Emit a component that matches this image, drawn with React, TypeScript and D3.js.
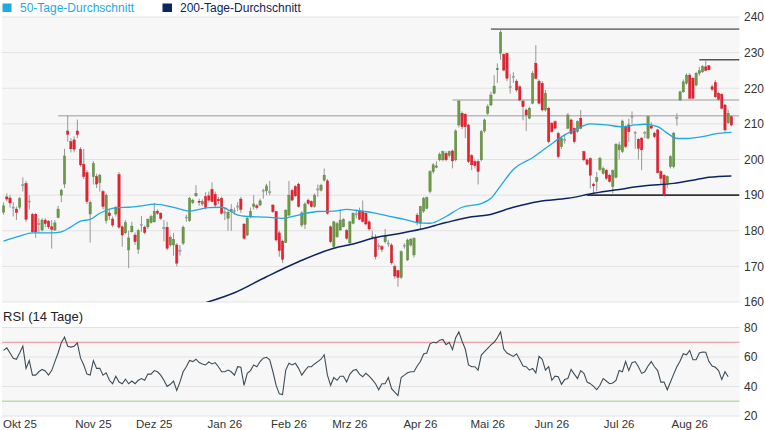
import React from 'react';
import * as d3 from 'd3';

// ---------- data ----------
const START_DATE = '2025-09-24';
const HOLIDAYS = ['2025-11-27', '2025-12-25', '2026-01-01', '2026-01-19', '2026-02-16', '2026-04-03', '2026-05-25', '2026-06-19', '2026-07-03'];

const OPEN = [
  185.2, 189.5, 189.2, 186.5, 186.1, 186.6, 192.8, 193.3, 188.2, 184.6,
  184.6, 181.9, 180.2, 183, 182.7, 181.1, 180.2, 183.7, 190, 193.1,
  208, 205, 205.5, 208, 202.9, 198.7, 196.3, 184.7, 195.2, 195.2,
  193.5, 191, 182.8, 185, 183.3, 184.7, 195.8, 181.1, 179.4, 174.6,
  179.7, 178.8, 174.8, 181.6, 181, 181.1, 182.3, 182.5, 185.5, 184.9,
  180.7, 181, 176, 176, 176, 174.4, 176.5, 183.7, 182.8, 187.9,
  189.8, 188.3, 187.5, 189.6, 189.8, 191.6, 190.2, 188.8, 189.1, 185.1,
  183.5, 185.4, 185.5, 186.8, 188.9, 181.9, 178.8, 184, 186.8, 187,
  187.2, 191.2, 191.2, 190.8, 187.2, 185.4, 179.4, 177.1, 176.7, 184.4,
  191.3, 192.4, 193.1, 181.6, 181.8, 188.6, 188.2, 186.8, 191.6, 191.4,
  194.2, 194, 181.1, 175.5, 178.3, 180.2, 181.1, 180, 176.6, 182.1,
  184.6, 185.6, 185.4, 184.9, 182.5, 178.3, 178.2, 175.7, 175.5, 176.9,
  176.4, 176, 169.9, 168.8, 166.9, 175.8, 171.8, 176, 173.2, 184.4,
  182.1, 185.5, 186.3, 191, 196.6, 197.8, 199.9, 199.9, 201.7, 201.1,
  202.4, 199.9, 209.7, 213, 212.7, 209.7, 201.1, 199.4, 199.4, 199.9,
  208, 213, 215.3, 218.6, 225.2, 229.8, 229.5, 229.8, 220.3, 223.2,
  222, 220.4, 216.4, 213.9, 211.6, 215.8, 227, 222, 221.4, 213.9,
  214.4, 210.2, 210.6, 207.3, 203.6, 205.5, 208.8, 211.1, 208.8, 207.8,
  211.6, 202.2, 199.9, 200.3, 193.1, 193.8, 197.2, 196.1, 197, 195.6,
  192.4, 195, 202.7, 202.2, 209.2, 209.7, 212, 207.5, 205.7, 206,
  207.5, 206, 209.4, 207.4, 208.3, 196.6, 195.6, 193.3, 198, 198,
  211.6, 216.7, 219, 221.4, 223.7, 222.8, 220.9, 224.2, 224.6, 226,
  226.3, 220.4, 221.6, 218.6, 218.3, 215.3, 210.3, 212,
];
const HIGH = [
  188, 190.5, 190, 188, 186.8, 189.5, 195, 194, 190, 185,
  185, 183.5, 183.5, 183.5, 183, 183, 183, 187, 191.8, 203,
  212.3, 206, 206.5, 211.2, 203.5, 203, 197, 188.5, 199.5, 196,
  196, 191.5, 190.5, 186, 184, 187, 196.5, 181.5, 183, 180,
  182.5, 179.5, 180.5, 184.1, 181.5, 183.5, 184.5, 187.8, 186, 185.2,
  183, 182.5, 178.7, 179.4, 176.5, 176, 181.5, 184.5, 189.5, 189,
  192.8, 189, 188.8, 190.8, 191, 193.6, 191, 189.5, 189.6, 186.5,
  185.8, 187.5, 186.5, 188, 189.5, 182, 184, 186.5, 190, 187.5,
  189, 191.8, 193.2, 194, 187.5, 185.6, 180, 177.5, 186, 194,
  191.8, 192.8, 193.5, 185.5, 188, 189, 188.5, 190.5, 193, 193.2,
  197.5, 194.5, 181.5, 182.8, 182.5, 186, 183.5, 180.5, 182.8, 185.2,
  186, 186.5, 188.5, 185.2, 183, 180, 179, 176.5, 176, 180.5,
  177.5, 176.5, 170.5, 169, 174.5, 176.5, 177.8, 178, 178.2, 185,
  187, 189.5, 189.6, 197, 199, 199.5, 202, 202.5, 202.3, 202.5,
  202.8, 208.5, 216.7, 213.5, 213, 210, 201.5, 200, 200, 208.3,
  211.5, 215.5, 219, 223.7, 227, 236.6, 229.8, 230, 224, 224.5,
  222.5, 220.8, 216.8, 214.3, 214.8, 224.8, 232.1, 222.5, 222, 219.5,
  214.8, 210.5, 211, 207.8, 206.5, 207, 213, 211.5, 209, 211,
  213.9, 202.5, 200.3, 200.6, 193.5, 196.5, 200.8, 198, 197.3, 196,
  197.2, 204.6, 205, 211.2, 209.6, 211.5, 213.5, 208, 206, 206.3,
  208, 212.3, 210.5, 207.8, 208.6, 197, 196, 195.5, 201.2, 207.7,
  213, 219.3, 222.5, 224.2, 224.2, 223.1, 224.6, 226, 226.5, 227.9,
  226.5, 221, 222.3, 219, 218.6, 215.6, 214, 212.3,
];
const LOW = [
  184.5, 188.3, 186.5, 184, 183, 186, 191, 182.5, 186, 179.5,
  178, 179.5, 179.8, 181, 180.5, 175, 180, 183.5, 188, 192,
  205, 202, 202, 206, 198, 194.5, 187.5, 176.7, 193, 192,
  191, 186, 182, 183, 181, 184, 180.5, 175.5, 179, 169.5,
  179.5, 176, 173.5, 179.7, 179, 180.5, 182, 182.3, 184.5, 183,
  177, 174.5, 175.5, 173, 170, 173, 176, 182.5, 182.5, 187.5,
  189.5, 187, 187, 186, 188, 188, 186.5, 187.5, 184.5, 183,
  180, 180, 184.5, 185.5, 185, 177.5, 178.5, 183.5, 186, 186,
  187, 189, 190, 190, 185, 177, 172.7, 171, 176.5, 184,
  188.3, 189.5, 186.5, 181, 180.5, 187.3, 186.5, 186.5, 189.5, 191,
  193.8, 184.5, 176.5, 175, 178, 180, 181, 177.5, 176.3, 181.8,
  183.5, 183, 182.3, 181.5, 180, 177.5, 172, 174.5, 174, 176.5,
  175.5, 170.5, 166.5, 164.3, 166.5, 175, 171.5, 175.5, 172.5, 181.5,
  180.5, 185, 186, 190.5, 196, 197.5, 199.5, 199.5, 199.5, 200.5,
  197.5, 199.5, 209, 208.5, 206, 199, 197, 197.5, 193, 199.5,
  207.5, 212.5, 215, 218.3, 221.5, 228, 224.8, 222, 218.5, 221.5,
  219, 216.3, 211, 208, 211.3, 215.5, 222.5, 215.5, 213.5, 213.5,
  204.5, 207.5, 208.5, 200.3, 203, 204.5, 208.5, 207, 204.5, 207.5,
  208.5, 199.5, 198.3, 191.9, 190.2, 191, 196.8, 195.8, 194.3, 193.5,
  190.5, 194.7, 200, 201.8, 203.2, 205, 210, 203, 200, 197,
  206, 205.7, 208.5, 206, 196, 193, 189.8, 192, 197.5, 197.5,
  209.5, 216.4, 218.7, 221, 216.9, 216.9, 220.5, 223.5, 224.3, 224.8,
  225, 219.3, 217.3, 216.5, 214, 207.5, 210, 209.3,
];
const CLOSE = [
  187, 188.9, 187.8, 186.5, 185.1, 189, 192.8, 183.2, 188.2, 179.7,
  179.7, 181.9, 183, 182, 181.1, 180.4, 182.2, 186.1, 191.4, 201,
  207.1, 203, 202.9, 207, 198.5, 195.2, 188.2, 188, 198.9, 193.1,
  195.6, 186.8, 190, 184.2, 181.6, 186.5, 181, 178.8, 182.3, 178,
  181.3, 176.9, 180, 181.6, 179.5, 183.2, 184, 185.5, 184.9, 183.5,
  180.7, 175.1, 178.2, 177.6, 170.9, 174.4, 181, 183.7, 189.1, 188.6,
  190.5, 188, 188.2, 186.6, 188.6, 188.2, 187.2, 188.4, 184.9, 185.1,
  185.2, 186, 185.5, 186.8, 186, 177.9, 183.5, 185.4, 187.5, 186.5,
  188.4, 191.2, 192.6, 190.8, 185.4, 177.4, 174.4, 172, 185.8, 190,
  188.6, 189.8, 186.8, 185, 187.5, 187.7, 186.8, 190, 191.6, 192.8,
  195.6, 184.9, 176.9, 182.5, 182, 183, 183.2, 177.9, 182.5, 184.9,
  184.6, 183.2, 182.6, 181.9, 180.5, 178.3, 172.7, 175.7, 174.8, 178.5,
  176.4, 171, 167.3, 166.9, 174.1, 175.8, 177.4, 177.6, 177.9, 182.2,
  186.8, 189.1, 189.3, 196.6, 198.5, 198.2, 201.5, 202.2, 199.9, 202.2,
  199.6, 208, 216.4, 209.2, 209.2, 199.4, 198.5, 198.3, 196.6, 207.8,
  211.1, 214.8, 218.1, 220.6, 225.6, 235.7, 225.1, 222.8, 220.3, 223.2,
  219.5, 216.7, 214.8, 212.5, 214.4, 224.2, 222.8, 215.8, 213.9, 218.6,
  205, 207.8, 208.8, 200.8, 206, 205.5, 212.5, 207.3, 205, 210.6,
  208.8, 199.9, 198.7, 195.6, 192.6, 194.9, 200.3, 197.5, 194.7, 193.8,
  196.9, 204.3, 204.1, 210.8, 203.6, 207.8, 212, 207.5, 203.1, 202.7,
  207.5, 212, 208.8, 206.4, 196.3, 194.7, 190, 195.2, 200.8, 207.4,
  211.6, 219, 221.8, 223.7, 217.2, 217.2, 224.2, 224.9, 226.1, 225,
  225.2, 219.7, 217.6, 216.9, 214.4, 208.3, 213, 209.7,
];

const RSI = [
  64.5, 66.2, 62.7, 59.2, 58.5, 62.7, 67.3, 52.3, 57.6, 47.7,
  47.7, 50, 51.6, 50.5, 47.7, 50.8, 56.9, 62.7, 69.6, 73.5,
  67.3, 66.7, 67.3, 69.6, 59.2, 54.6, 48.4, 47.7, 57.6, 52.3,
  52.3, 47.7, 49.3, 44.2, 41.9, 47, 43, 41.9, 44.9, 41.9,
  43.7, 41.9, 44.2, 45.4, 44.2, 48.4, 48.4, 50.8, 50, 47.7,
  44.2, 40.1, 41.5, 43.7, 37.3, 43, 50, 53.4, 57.6, 56.9,
  58.5, 56.2, 55.3, 54.6, 56.7, 55.3, 56.2, 53.4, 50, 50,
  51.1, 50, 47.7, 53.4, 53, 40.8, 48.9, 50.8, 54.6, 53.4,
  56.9, 59.2, 59.8, 58.1, 50, 40.8, 35, 34.5, 51.1, 55.8,
  54.6, 55.8, 52.3, 47.7, 50.8, 53.4, 53.4, 55.3, 56.9, 58.5,
  61.5, 47.7, 40.8, 46.1, 44.2, 47, 47, 43, 48.4, 50.8,
  51.6, 48.4, 46.6, 48.9, 47, 44.7, 41.9, 37.8, 41.9, 41.9,
  46.1, 38.5, 36.2, 33.8, 46.1, 47.7, 49.3, 50, 50, 53.9,
  56.9, 62, 62.7, 68.9, 70, 69.6, 71.4, 71.9, 68.4, 70,
  65, 73, 77, 70.7, 65.4, 54.6, 53.4, 53.4, 51.1, 61.3,
  63.6, 65.9, 68.2, 70, 73, 77, 65.4, 62.7, 61.5, 60.4,
  62.2, 58.1, 53.9, 53.4, 51.1, 52.3, 49.3, 60.4, 58.5, 51.1,
  53.4, 44.2, 47, 46.6, 41.5, 44.7, 45.4, 51.6, 48.4, 45.4,
  50.8, 48.9, 43, 41.9, 40.1, 37.8, 40.8, 45.4, 43.7, 41.9,
  42.4, 44.2, 50.8, 50, 56.9, 50.8, 56.2, 56.9, 53.4, 48.9,
  50, 53.9, 56.9, 53.4, 50.8, 43, 43, 37.8, 43, 48.4,
  53.4, 57.3, 62.2, 61.5, 64.5, 58.1, 58.1, 62.7, 63.4, 63.2,
  56.9, 53.9, 53, 50.8, 44.7, 50, 46.6,
];

const MA50_IDX = [0, 5, 9, 15, 18, 21, 24, 27, 30, 33, 36, 39, 43, 47, 51, 55, 58, 61, 64, 68, 71, 73, 76, 82, 87, 92, 98, 103, 107, 111, 115, 120, 125, 129, 133, 138, 143, 149, 152, 155, 159, 165, 170, 175, 179, 183, 188, 193, 197, 200, 204, 207, 210, 213, 218, 222, 227];
const MA50_VAL = [177.1, 178.5, 179.4, 179.4, 179.7, 181.1, 182.7, 183.2, 184.9, 186.1, 186.5, 186.6, 187, 187.5, 187, 186.1, 185.5, 186, 186.5, 186.6, 185.4, 184.4, 184, 183.8, 183.5, 184.4, 185.4, 185.5, 186, 185.6, 185.1, 184.1, 183.2, 182.3, 182.1, 184, 186.6, 187.6, 189.1, 192.6, 197.2, 200.5, 203.8, 206.9, 208.7, 210, 209.7, 209.2, 209.7, 209.9, 209.2, 207.4, 205.9, 205.9, 206.4, 207.2, 207.6];

const MA200_IDX = [63, 72, 82, 92, 103, 109, 116, 124, 130, 138, 146, 151, 159, 167, 176, 184, 192, 200, 209, 215, 220, 227];
const MA200_VAL = [159.8, 162.6, 167.1, 171.3, 175.1, 176.3, 178.1, 179.3, 180.4, 182.3, 183.9, 184.4, 186.6, 188.2, 189.1, 190.5, 191.6, 192.6, 193.3, 194.2, 195, 195.4];

const LEVELS = [212.3, 216.7, 236.6, 228, 190];
const LEVEL_START = [17, 140, 152, 217, 182];
const LEVEL_COLORS = ['#b9b9b9', '#b9b9b9', '#7d7d7d', '#555555', '#333333'];

const PRICE_TICKS = [160, 170, 180, 190, 200, 210, 220, 230, 240];
const RSI_TICKS = [20, 40, 60, 80];
const RSI_BANDS = [70, 30];
const MONTH_LABELS = ['Okt 25', 'Nov 25', 'Dez 25', 'Jan 26', 'Feb 26', 'Mrz 26', 'Apr 26', 'Mai 26', 'Jun 26', 'Jul 26', 'Aug 26'];
const MONTH_KEYS = ['2025-10', '2025-11', '2025-12', '2026-01', '2026-02', '2026-03', '2026-04', '2026-05', '2026-06', '2026-07', '2026-08'];

// ---------- helpers ----------
function tradingDays(start: string, n: number, holidays: string[]): string[] {
  const out: string[] = [];
  const d = new Date(start + 'T00:00:00Z');
  while (out.length < n) {
    const wd = d.getUTCDay();
    const s = d.toISOString().slice(0, 10);
    if (wd !== 0 && wd !== 6 && !holidays.includes(s)) out.push(s);
    d.setUTCDate(d.getUTCDate() + 1);
  }
  return out;
}

const W = 765;
const H = 430;
const PL = 2;
const PR = 739.5;
const MAIN_TOP = 17;
const MAIN_BOT = 302;
const RSI_TOP = 327.5;
const RSI_BOT = 416;
const FONT = 'Arial, "Liberation Sans", Helvetica, sans-serif';

export default function App() {
  const N = CLOSE.length;
  const dates = tradingDays(START_DATE, N, HOLIDAYS);
  const idx = d3.range(N);

  const x = d3.scaleBand<number>().domain(idx).range([2, 733]).paddingInner(0.28).paddingOuter(0.14);
  const bw = x.bandwidth();
  const cx = (i: number) => (x(i) as number) + bw / 2;

  const y = d3.scaleLinear().domain([160, 240]).range([MAIN_BOT, MAIN_TOP]);
  const yr = d3.scaleLinear().domain([20, 80]).range([RSI_BOT, RSI_TOP]);

  const ma50Line = d3.line<number>().x((_, k) => cx(MA50_IDX[k])).y((v) => y(v)).curve(d3.curveMonotoneX);
  const ma200Line = d3.line<number>().x((_, k) => cx(MA200_IDX[k])).y((v) => y(v)).curve(d3.curveMonotoneX);
  const rsiLine = d3.line<number>().x((_, k) => cx(k)).y((v) => yr(v));

  const monthTicks = MONTH_KEYS.map((key, m) => {
    const i = dates.findIndex((s) => s.slice(0, 7) === key);
    return { label: MONTH_LABELS[m], i };
  }).filter((t) => t.i >= 0);

  return (
    <svg width={W} height={H} style={{ position: 'absolute', left: 0, top: 0, background: '#fff' }} fontFamily={FONT}>
      <defs>
        <clipPath id="mainClip">
          <rect x={PL} y={MAIN_TOP} width={PR - PL} height={MAIN_BOT - MAIN_TOP} />
        </clipPath>
        <clipPath id="rsiClip">
          <rect x={PL} y={RSI_TOP} width={PR - PL} height={RSI_BOT - RSI_TOP} />
        </clipPath>
      </defs>

      {/* legend */}
      <rect x={2.5} y={3.5} width={9} height={8.5} fill="#1fa9e1" />
      <text x={20} y={12} fontSize={12} fill="#1fa9e1">50-Tage-Durchschnitt</text>
      <rect x={162.5} y={3.5} width={9.5} height={8.5} fill="#0c2462" />
      <text x={180} y={12} fontSize={12} fill="#0c2462">200-Tage-Durchschnitt</text>

      {/* main panel */}
      <rect x={PL} y={MAIN_TOP} width={PR - PL} height={MAIN_BOT - MAIN_TOP} fill="#f7f7f7" />
      {PRICE_TICKS.map((t) => (
        <g key={'pt' + t}>
          <line x1={PL} x2={PR} y1={y(t)} y2={y(t)} stroke="#e2e2e2" strokeWidth={1} />
          <text x={744} y={y(t)} dy="0.36em" fontSize={12} fill="#333">{t}</text>
        </g>
      ))}

      <g clipPath="url(#mainClip)">
        {LEVELS.map((lv, k) => (
          <line key={'lv' + k} x1={cx(LEVEL_START[k])} x2={PR} y1={y(lv)} y2={y(lv)} stroke={LEVEL_COLORS[k]} strokeWidth={1.6} />
        ))}
        {idx.map((i) => {
          const o = OPEN[i], c = CLOSE[i], hi = HIGH[i], lo = LOW[i];
          const up = c > o;
          const doji = Math.abs(c - o) < 0.05;
          const top = y(Math.max(o, c));
          const bh = Math.max(1.2, Math.abs(y(o) - y(c)));
          const fill = doji ? '#9a9a9a' : up ? '#6d9a48' : '#e8212f';
          const stroke = doji ? '#9a9a9a' : up ? '#56803a' : '#c81824';
          return (
            <g key={'c' + i}>
              <line x1={cx(i)} x2={cx(i)} y1={y(hi)} y2={y(lo)} stroke="#8c8c8c" strokeWidth={0.9} />
              <rect x={x(i) as number} y={doji ? top - 0.6 : top} width={bw} height={bh} fill={fill} stroke={stroke} strokeWidth={0.4} />
            </g>
          );
        })}
        <path d={ma200Line(MA200_VAL) || ''} fill="none" stroke="#0c2462" strokeWidth={1.5} />
        <path d={ma50Line(MA50_VAL) || ''} fill="none" stroke="#1fa9e1" strokeWidth={1.3} />
      </g>

      {/* RSI panel */}
      <text x={3} y={321} fontSize={13} fill="#222">RSI (14 Tage)</text>
      <rect x={PL} y={RSI_TOP} width={PR - PL} height={RSI_BOT - RSI_TOP} fill="#f7f7f7" />
      {RSI_TICKS.map((t) => (
        <g key={'rt' + t}>
          <line x1={PL} x2={PR} y1={yr(t)} y2={yr(t)} stroke="#e2e2e2" strokeWidth={1} />
          <text x={744} y={yr(t)} dy="0.36em" fontSize={12} fill="#333">{t}</text>
        </g>
      ))}
      <line x1={PL} x2={PR} y1={yr(RSI_BANDS[0])} y2={yr(RSI_BANDS[0])} stroke="#f08a8f" strokeWidth={1.2} />
      <line x1={PL} x2={PR} y1={yr(RSI_BANDS[1])} y2={yr(RSI_BANDS[1])} stroke="#bcd9a8" strokeWidth={1.5} />
      <g clipPath="url(#rsiClip)">
        <path d={rsiLine(RSI) || ''} fill="none" stroke="#3e4d57" strokeWidth={1.1} />
      </g>

      {/* x axis */}
      {monthTicks.map((t, k) => (
        <text key={'mt' + k} x={k === 0 ? 3 : cx(t.i)} y={428} fontSize={11.5} fill="#333" textAnchor={k === 0 ? 'start' : 'middle'}>
          {t.label}
        </text>
      ))}
    </svg>
  );
}
